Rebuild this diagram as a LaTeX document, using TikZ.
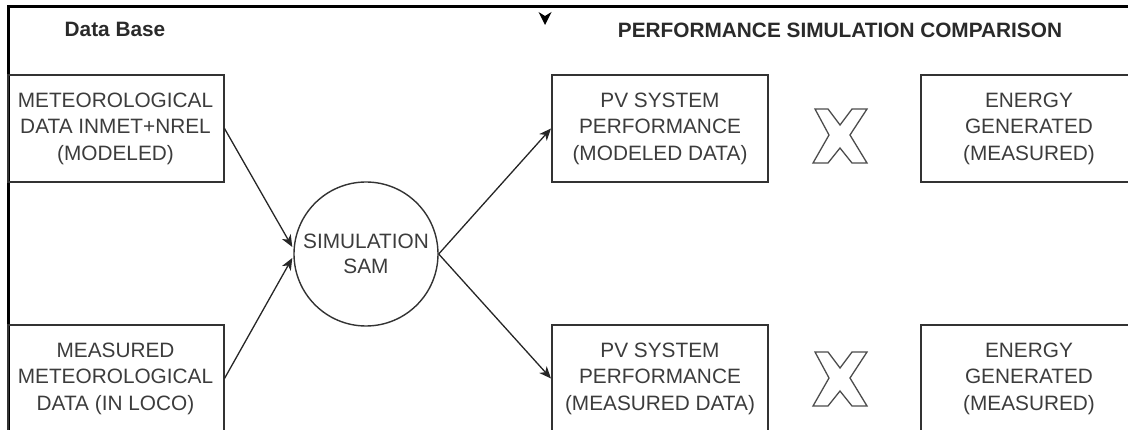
\documentclass[tikz,border=0pt]{standalone}
\usepackage{fontspec}
\setmainfont{Liberation Sans}
\usetikzlibrary{arrows.meta,calc}
\definecolor{txt}{HTML}{3C3C3C}
\definecolor{ttl}{HTML}{2A2A2A}
\definecolor{edge}{HTML}{333333}
\begin{document}
\begin{tikzpicture}[x=1pt,y=-1pt,
  box/.style={draw=edge,line width=2pt,rectangle,minimum width=216pt,minimum height=107pt,
    inner sep=0pt,align=center,text=txt,font=\fontsize{20.8}{26.5}\selectfont},
  simnode/.style={draw=edge,line width=1.4pt,circle,minimum size=144pt,inner sep=0pt,
    align=center,text=txt,font=\fontsize{20.8}{25}\selectfont},
  title/.style={text=ttl,font=\bfseries\fontsize{20.8}{25}\selectfont,inner sep=0pt},
  conn/.style={draw=black!85,line width=1.3pt,-{Stealth[length=12pt,width=10pt,inset=3.5pt]}},
  crossmark/.style={draw=black!70,line width=1.3pt,line join=miter,fill=white}]
\useasboundingbox (0,0) rectangle (1128,430);
\clip (0,0) rectangle (1128,430);
% frame
\draw[line width=3pt,black] (8,436) -- (8,6.5) -- (1135,6.5);
% titles
\node[title] (dbt) at (115,29) {Data Base};
\node[title] (pst) at (840,30) {PERFORMANCE SIMULATION COMPARISON};
% small arrow tip at top
\fill[black] (545,25) -- (538.5,12) -- (545,16) -- (551.5,12) -- cycle;
% boxes
\node[box] (met) at (115.5,128.5) {METEOROLOGICAL\\DATA INMET+NREL\\(MODELED)};
\node[box] (mea) at (115.5,378.5) {MEASURED\\METEOROLOGICAL\\DATA (IN LOCO)};
\node[simnode] (sim) at (366,254) {SIMULATION\\SAM};
\node[box] (pv1) at (660,128.5) {PV SYSTEM\\PERFORMANCE\\(MODELED DATA)};
\node[box] (pv2) at (660,378.5) {PV SYSTEM\\PERFORMANCE\\(MEASURED DATA)};
\node[box] (en1) at (1029,128.5) {ENERGY\\GENERATED\\(MEASURED)};
\node[box] (en2) at (1029,378.5) {ENERGY\\GENERATED\\(MEASURED)};
% connectors
\draw[conn] (met.east) -- ($(sim.west)+(-1,-7)$);
\draw[conn] (mea.east) -- ($(sim.west)+(-1,4)$);
\draw[conn] (sim.east) -- (pv1.west);
\draw[conn] (sim.east) -- (pv2.west);
% outlined X marks
\foreach \cy in {136,379}{
  \draw[crossmark] (840,\cy) ++(-25,-27) -- ++(13,0) -- ++(12,16) -- ++(12,-16) -- ++(15,0)
    -- ++(-17,26) -- ++(17,28) -- ++(-15,0) -- ++(-12,-15) -- ++(-12,15) -- ++(-15,0)
    -- ++(16,-28) -- cycle;
}
\end{tikzpicture}
\end{document}
